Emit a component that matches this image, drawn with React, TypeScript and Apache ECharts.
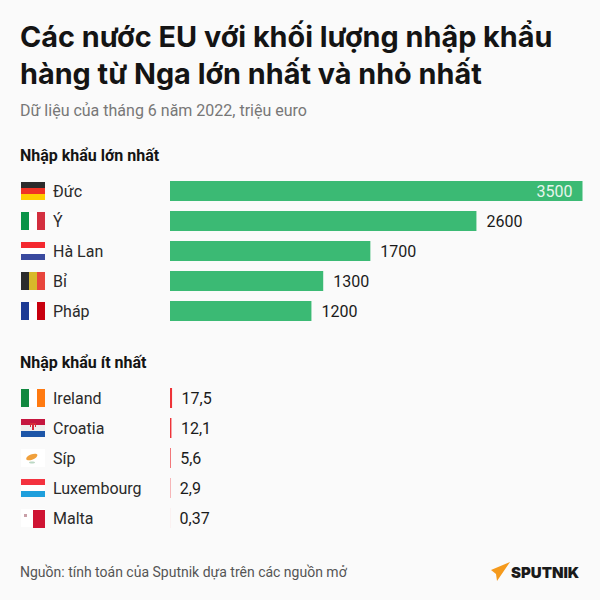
import React, { useEffect, useRef } from "react";
import * as echarts from "echarts";

const topCategories = ["Đức", "Ý", "Hà Lan", "Bỉ", "Pháp"];
const topValues = [3500, 2600, 1700, 1300, 1200];
const bottomCategories = ["Ireland", "Croatia", "Síp", "Luxembourg", "Malta"];
const bottomValues = [17.5, 12.1, 5.6, 2.9, 0.37];
const titleLines = ["Các nước EU với khối lượng nhập khẩu", "hàng từ Nga lớn nhất và nhỏ nhất"];
const subtitle = "Dữ liệu của tháng 6 năm 2022, triệu euro";
const topHeading = "Nhập khẩu lớn nhất";
const bottomHeading = "Nhập khẩu ít nhất";
const source = "Nguồn: tính toán của Sputnik dựa trên các nguồn mở";

const FONT = "Roboto";
const INK = "#141414";

const flagX = 21;
const flagW = 24;
const flagH = 18;
const stripesH = (y: number, cols: string[]) =>
  cols.map((c, i) => ({
    type: "rect",
    shape: { x: flagX, y: y + (i * flagH) / cols.length, width: flagW, height: flagH / cols.length },
    style: { fill: c },
    silent: true,
  }));
const stripesV = (y: number, cols: string[]) =>
  cols.map((c, i) => ({
    type: "rect",
    shape: { x: flagX + (i * flagW) / cols.length, y, width: flagW / cols.length, height: flagH },
    style: { fill: c },
    silent: true,
  }));
const r = (x: number, y: number, width: number, height: number, fill: string) => ({
  type: "rect",
  shape: { x, y, width, height },
  style: { fill },
  silent: true,
});

const txt = (x: number, y: number, text: string, size: number, weight: any, fill: string, extra: any = {}) => ({
  type: "text",
  x,
  y,
  silent: true,
  style: { text, fontFamily: FONT, fontSize: size, fontWeight: weight, fill, textVerticalAlign: "middle", ...extra },
});

export default function App() {
  const ref = useRef<HTMLDivElement>(null);
  useEffect(() => {
    document.body.style.margin = "0";
    const chart = echarts.init(ref.current!, null, { renderer: "svg" });
    const commonY = (data: string[], gridIndex: number) => ({
      type: "category" as const,
      data,
      gridIndex,
      inverse: true,
      axisLine: { show: false },
      axisTick: { show: false },
      axisLabel: {
        align: "left" as const,
        margin: 117,
        fontFamily: FONT,
        fontSize: 16,
        color: "#2a2a2a",
      },
    });
    const commonX = (gridIndex: number) => ({
      type: "value" as const,
      gridIndex,
      min: 0,
      max: 3500,
      show: false,
    });
    const fmt = (p: any) => String(p.value).replace(".", ",");
    chart.setOption({
      animation: false,
      backgroundColor: "#fafafa",
      textStyle: { fontFamily: FONT },
      grid: [
        { left: 170, top: 176, width: 412.5, height: 150 },
        { left: 170, top: 383, width: 412.5, height: 150 },
      ],
      xAxis: [commonX(0), commonX(1)],
      yAxis: [commonY(topCategories, 0), commonY(bottomCategories, 1)],
      series: [
        {
          type: "bar",
          xAxisIndex: 0,
          yAxisIndex: 0,
          barWidth: 20,
          itemStyle: { color: "#3bba74" },
          label: {
            show: true,
            position: "right",
            distance: 10,
            formatter: fmt,
            fontFamily: FONT,
            fontSize: 16,
            color: "#1a1a1a",
          },
          data: topValues.map((v, i) =>
            i === 0
              ? {
                  value: v,
                  label: { position: "insideRight", distance: 10, color: "#e6f5ec" },
                }
              : v
          ),
        },
        {
          type: "bar",
          xAxisIndex: 1,
          yAxisIndex: 1,
          barWidth: 20,
          itemStyle: { color: "#ee3338" },
          label: {
            show: true,
            position: "right",
            distance: 9.5,
            formatter: fmt,
            fontFamily: FONT,
            fontSize: 16,
            color: "#1a1a1a",
          },
          data: bottomValues,
        },
      ],
      graphic: [
        {
          type: "group",
          silent: true,
          children: [
            txt(20, 36, titleLines[0], 28.8, 700, INK, { fontFamily: "Inter" }),
            txt(20, 73, titleLines[1], 28.8, 700, INK, { fontFamily: "Inter" }),
            txt(20, 110, subtitle, 16, 400, "#777777"),
            txt(20, 155, topHeading, 16, 700, INK),
            txt(20, 362, bottomHeading, 16, 700, INK),
            txt(20, 572, source, 14, 400, "#555555"),

            ...stripesH(182, ["#2b2b2b", "#f03225", "#ffcc00"]),
            ...stripesV(212, ["#0a9348", "#ffffff", "#d32f3f"]),
            ...stripesH(242, ["#f4282f", "#ffffff", "#3a4a9f"]),
            ...stripesV(272, ["#2b2b2b", "#d8b92a", "#e8453c"]),
            ...stripesV(302, ["#1c3a94", "#ffffff", "#c8000f"]),

            ...stripesV(389, ["#11883f", "#ffffff", "#ff7a11"]),
            ...stripesH(419, ["#c5163f", "#eeeeee", "#1d56a8"]),
            r(30, 423, 6, 4, "#d62b3a"),
            r(31, 425, 4, 6, "#e9ecf2"),
            r(32, 425, 2, 5, "#d62b3a"),
            ...stripesH(449, ["#ffffff", "#ffffff", "#ffffff"]),
            { type: "ellipse", shape: { cx: 32, cy: 457, rx: 6, ry: 2.6 }, rotation: 0.4, originX: 32, originY: 457, style: { fill: "#f0a03c" }, silent: true },
            { type: "ellipse", shape: { cx: 32, cy: 462.5, rx: 3, ry: 1 }, style: { fill: "#bcd8c4" }, silent: true },
            ...stripesH(479, ["#f4323f", "#ffffff", "#1f9fdc"]),
            ...stripesV(509, ["#ffffff"]),
            r(33, 510, 12, 18, "#cf1433"),
            r(24, 514, 3, 3, "#c9a0a8"),

            {
              type: "polygon",
              shape: { points: [[510, 562], [491, 570], [496, 574], [497, 581]] },
              style: { fill: "#f59a1c" },
              silent: true,
            },
            txt(511, 572, "SPUTNIK", 15, 900, "#1a1a1a", { fontFamily: "Inter", letterSpacing: 0.3 }),
          ],
        },
      ],
    });
    return () => chart.dispose();
  }, []);
  return <div ref={ref} style={{ width: 600, height: 600 }} />;
}
